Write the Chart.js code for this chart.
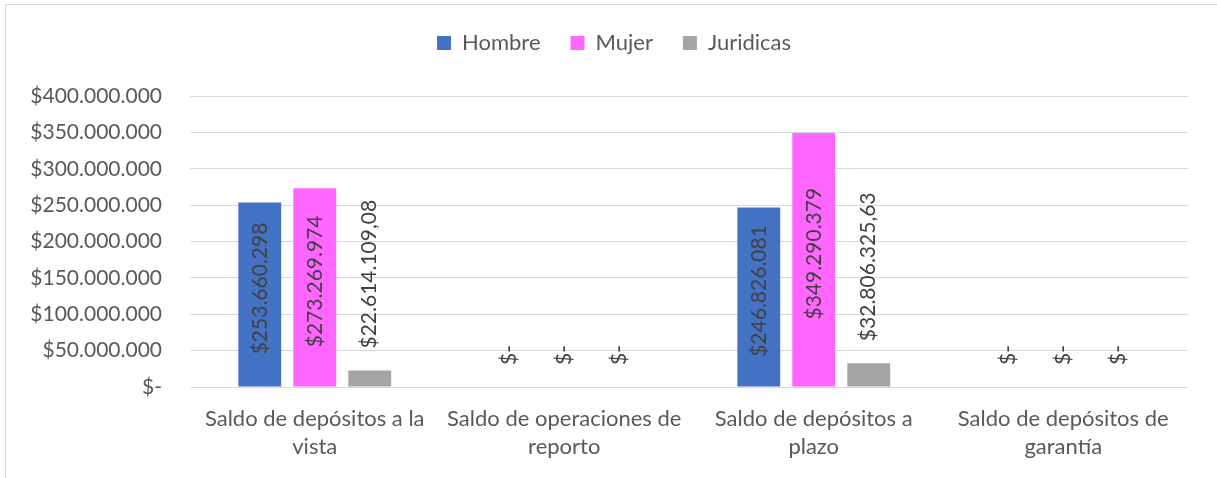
<!DOCTYPE html>
<html>
<head>
<meta charset="utf-8">
<script src="https://cdn.jsdelivr.net/npm/chart.js"></script>
<style>
  html, body { margin: 0; padding: 0; background: #fff; overflow: hidden; }
  #wrap { position: relative; width: 1217px; height: 478px; }
  #frame { position: absolute; left: 5px; top: 4px; width: 1400px; height: 700px; border: 1px solid #d9d9d9; }
  #myChart { position: absolute; left: 0; top: 0; }
</style>
</head>
<body>
<div id="wrap">
  <div id="frame"></div>
  <canvas id="myChart" width="1217" height="478"></canvas>
</div>
<script>
// categorias del eje x
var categorias = [
  ['Saldo de depósitos a la', 'vista'],
  ['Saldo de operaciones de', 'reporto'],
  ['Saldo de depósitos a', 'plazo'],
  ['Saldo de depósitos de', 'garantía']
];
var hombre = [253660298, 0, 246826081, 0];
var mujer = [273269974, 0, 349290379, 0];
var juridicas = [22614109.08, 0, 32806325.63, 0];
var yMax = 400000000;
var yStep = 50000000;

var FONT = 'Lato';
var gris = '#595959';

// formato tipo Excel: $#.##0 y "$-" para cero
function money(v) {
  if (v === 0) return '$-';
  var dec = Number.isInteger(v) ? 0 : 2;
  var parts = v.toFixed(dec).split('.');
  var ent = parts[0].replace(/\B(?=(\d{3})+(?!\d))/g, '.');
  return '$' + ent + (dec ? ',' + parts[1] : '');
}

var dataLabelPlugin = {
  id: 'dataLabels',
  afterDatasetsDraw: function (chart) {
    var ctx = chart.ctx;
    chart.data.datasets.forEach(function (dataset, i) {
      var meta = chart.getDatasetMeta(i);
      if (meta.hidden) return;
      meta.data.forEach(function (bar, j) {
        var v = dataset.data[j];
        ctx.save();
        ctx.font = '21px ' + FONT;
        ctx.fillStyle = '#404040';
        ctx.textBaseline = 'middle';
        if (i < 2 && v > 0) {
          // dentro de la barra, centrado
          ctx.translate(bar.x, (bar.y + bar.base) / 2 - 6);
          ctx.textAlign = 'center';
        } else {
          // fuera, encima de la barra
          ctx.translate(bar.x, bar.y - 22);
          ctx.textAlign = 'left';
        }
        ctx.rotate(-Math.PI / 2);
        ctx.fillText(money(v), 0, 0);
        ctx.restore();
      });
    });
  }
};

// espacio extra debajo de la leyenda y leyenda centrada en todo el lienzo
var legendGap = {
  id: 'legendGap',
  beforeInit: function (chart) {
    var fit = chart.legend.fit;
    chart.legend.fit = function () {
      fit.bind(chart.legend)();
      this.height += 32;
    };
  },
  afterLayout: function (chart) {
    chart.legend.left += 20;
    chart.legend.right += 20;
  }
};

var chart = new Chart('myChart', {
  type: 'bar',
  data: {
    labels: categorias,
    datasets: [
      { label: 'Hombre', data: hombre, backgroundColor: '#4472C4' },
      { label: 'Mujer', data: mujer, backgroundColor: '#FF66FF' },
      { label: 'Juridicas', data: juridicas, backgroundColor: '#A5A5A5' }
    ]
  },
  options: {
    responsive: false,
    animation: false,
    devicePixelRatio: 1,
    layout: { padding: { left: 0, right: 29, top: 2, bottom: 0 } },
    datasets: { bar: { categoryPercentage: 0.661, barPercentage: 0.78 } },
    plugins: {
      legend: {
        position: 'top',
        labels: {
          boxWidth: 14, boxHeight: 14, padding: 30,
          color: gris, font: { family: FONT, size: 22 }
        }
      },
      tooltip: { enabled: false }
    },
    scales: {
      x: {
        grid: { display: false, drawTicks: false },
        border: { display: false },
        ticks: { color: gris, padding: 18, maxRotation: 0, autoSkip: false,
                 font: { family: FONT, size: 22, lineHeight: 1.28 } },
        afterFit: function (s) { s.height = 91; }
      },
      y: {
        min: 0, max: yMax,
        grid: { color: '#d9d9d9', lineWidth: 1, drawTicks: false },
        border: { display: false },
        ticks: {
          stepSize: yStep, padding: 28, color: gris,
          font: { family: FONT, size: 21 },
          callback: function (v) { return money(v); }
        },
        afterFit: function (s) { s.width = 190; }
      }
    }
  },
  plugins: [dataLabelPlugin, legendGap]
});
</script>
</body>
</html>
